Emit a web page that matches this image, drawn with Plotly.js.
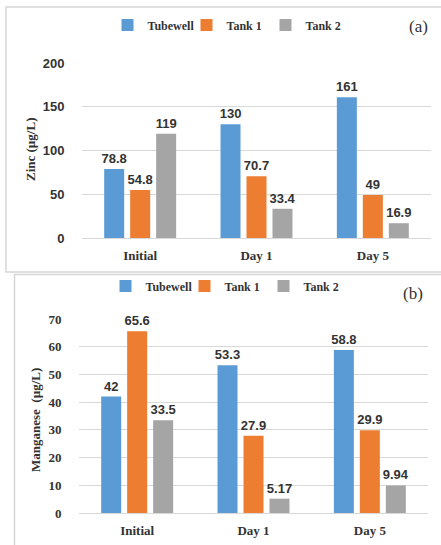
<!DOCTYPE html>
<html><head><meta charset="utf-8">
<script src="https://cdn.plot.ly/plotly-3.0.1.min.js"></script>
<style>html,body{margin:0;padding:0;background:#fff;}#chart{width:441px;height:545px;}</style>
</head><body><div id="chart"></div>
<script>
const categories = ["Initial", "Day 1", "Day 5"];
const seriesNames = ["Tubewell", "Tank 1", "Tank 2"];
const zincTubewell = [78.8, 130, 161];
const zincTank1 = [54.8, 70.7, 49];
const zincTank2 = [119, 33.4, 16.9];
const mnTubewell = [42, 53.3, 58.8];
const mnTank1 = [65.6, 27.9, 29.9];
const mnTank2 = [33.5, 5.17, 9.94];
const zincTicks = [0, 50, 100, 150, 200];
const mnTicks = [0, 10, 20, 30, 40, 50, 60, 70];
const colors = ["#5B9BD5", "#ED7D31", "#A5A5A5"];

const W = 441, H = 545;
const px = v => v / W;
const py = v => 1 - v / H;

const serifBold = "Liberation Serif";
const sansFont = "Liberation Sans";
const txt = "#333333";

function bars(vals, i, xa, ya, legendName) {
  return {
    type: "bar", x: categories, y: vals, name: seriesNames[i],
    xaxis: xa, yaxis: ya, legend: legendName,
    marker: {color: colors[i]},
    text: vals.map(v => String(v)), textposition: "outside",
    textfont: {family: sansFont, size: 13, color: txt, weight: "bold"},
    constraintext: "none", cliponaxis: false, hoverinfo: "skip"
  };
}

const data = [
  bars(zincTubewell, 0, "x", "y", "legend"),
  bars(zincTank1, 1, "x", "y", "legend"),
  bars(zincTank2, 2, "x", "y", "legend"),
  bars(mnTubewell, 0, "x2", "y2", "legend2"),
  bars(mnTank1, 1, "x2", "y2", "legend2"),
  bars(mnTank2, 2, "x2", "y2", "legend2")
];

const xCommon = {
  type: "category", showgrid: false, zeroline: false, showline: false,
  ticks: "outside", ticklen: 5, tickcolor: "rgba(0,0,0,0)",
  tickfont: {family: serifBold, size: 13, color: txt, weight: "bold"}
};

const legendCommon = {
  orientation: "h", xanchor: "center", yanchor: "middle",
  font: {family: serifBold, size: 12, color: txt, weight: "bold"},
  itemwidth: 30, entrywidth: 34, bgcolor: "rgba(0,0,0,0)", traceorder: "normal"
};

const layout = {
  width: W, height: H,
  margin: {l: 0, r: 0, t: 0, b: 0},
  paper_bgcolor: "#ffffff", plot_bgcolor: "#ffffff",
  barmode: "group", bargap: 0.33, bargroupgap: 0.23,
  showlegend: true,
  xaxis: Object.assign({}, xCommon, {domain: [px(82), px(431)], anchor: "y"}),
  yaxis: {
    domain: [py(238), py(63)], range: [0, 200], tickvals: zincTicks, anchor: "x",
    showgrid: true, gridcolor: "#D9D9D9", gridwidth: 1, zeroline: true, zerolinecolor: "#D9D9D9",
    showline: false, ticks: "outside", ticklen: 14, tickcolor: "rgba(0,0,0,0)",
    tickfont: {family: sansFont, size: 13, color: txt, weight: "bold"}
  },
  xaxis2: Object.assign({}, xCommon, {domain: [px(79), px(428)], anchor: "y2"}),
  yaxis2: {
    domain: [py(513), py(319)], range: [0, 70], tickvals: mnTicks, anchor: "x2",
    showgrid: true, gridcolor: "#D9D9D9", gridwidth: 1, zeroline: true, zerolinecolor: "#D9D9D9",
    showline: false, ticks: "outside", ticklen: 14, tickcolor: "rgba(0,0,0,0)",
    tickfont: {family: serifBold, size: 13, color: txt, weight: "bold"}
  },
  legend: Object.assign({}, legendCommon, {x: px(226), y: py(25)}),
  legend2: Object.assign({}, legendCommon, {x: px(224), y: py(286)}),
  annotations: [
    {text: "Zinc (µg/L)", xref: "paper", yref: "paper", x: px(30), y: py(150), textangle: -90,
     showarrow: false, xanchor: "center", yanchor: "middle",
     font: {family: serifBold, size: 13, color: txt, weight: "bold"}},
    {text: "Manganese&nbsp;&nbsp;(µg/L)", xref: "paper", yref: "paper", x: px(35), y: py(420), textangle: -90,
     showarrow: false, xanchor: "center", yanchor: "middle",
     font: {family: serifBold, size: 13, color: txt, weight: "bold"}},
    {text: "(a)", xref: "paper", yref: "paper", x: px(418), y: py(26), showarrow: false,
     font: {family: serifBold, size: 17, color: txt}, xanchor: "center", yanchor: "middle"},
    {text: "(b)", xref: "paper", yref: "paper", x: px(413), y: py(293), showarrow: false,
     font: {family: serifBold, size: 17, color: txt}, xanchor: "center", yanchor: "middle"}
  ],
  shapes: [
    {type: "rect", xref: "paper", yref: "paper", x0: px(6), x1: px(470), y0: py(272), y1: py(7),
     line: {color: "#D6D6D6", width: 1.5}, fillcolor: "rgba(0,0,0,0)", layer: "below"},
    {type: "rect", xref: "paper", yref: "paper", x0: px(14.5), x1: px(470), y0: py(570), y1: py(274.5),
     line: {color: "#D6D6D6", width: 1.5}, fillcolor: "rgba(0,0,0,0)", layer: "below"}
  ]
};

Plotly.newPlot("chart", data, layout, {staticPlot: true, displayModeBar: false});
</script></body></html>
